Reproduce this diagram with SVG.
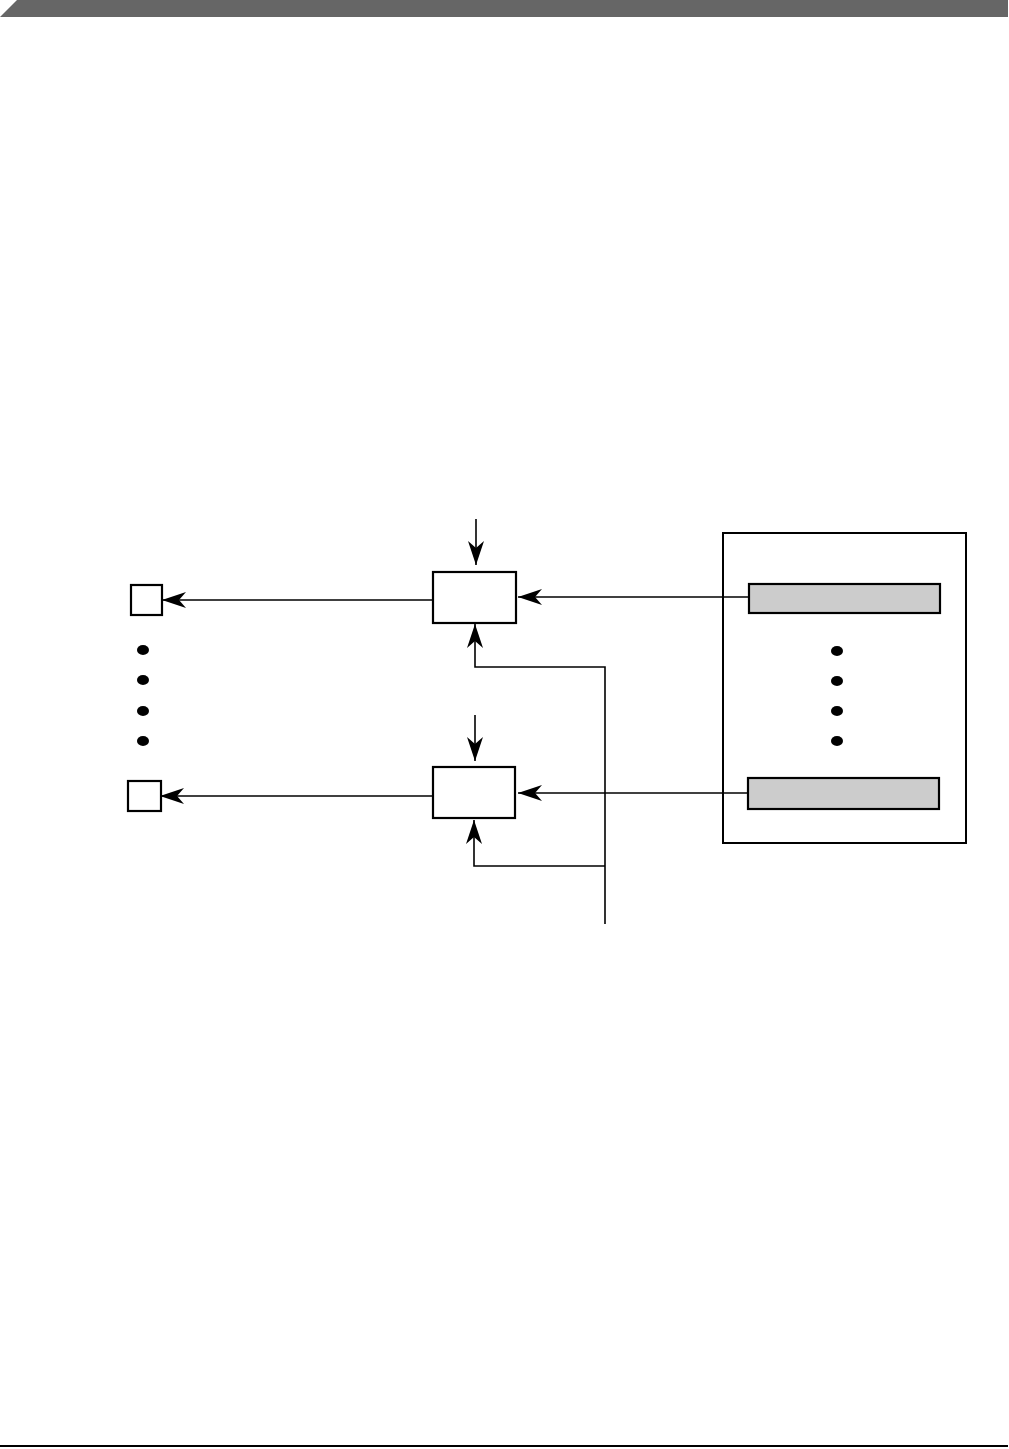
<svg xmlns="http://www.w3.org/2000/svg" width="1009" height="1449" viewBox="0 0 1009 1449">
<style>
.box{fill:#fff;stroke:#000;stroke-width:2.2}
.bar{fill:#cccccc;stroke:#000;stroke-width:2.2}
.frame{fill:none;stroke:#000;stroke-width:2}
.wire{fill:none;stroke:#000;stroke-width:1.6}
.dot{fill:#000}
</style>
<defs>
<marker id="ah" markerUnits="userSpaceOnUse" markerWidth="30" markerHeight="20" viewBox="-26 -10 30 20" refX="0" refY="0" orient="auto">
<path d="M0,0 L-24,-8 L-17,0 L-24,8 Z" fill="#000"/>
</marker>
</defs>
<rect width="1009" height="1449" fill="#fff"/>
<polygon points="17,0 1008,0 1008,17 0,17" fill="#666666"/>
<line x1="0" y1="1446" x2="1008" y2="1446" stroke="#000" stroke-width="2"/>

<g id="out1"><rect class="box" x="131" y="585" width="31" height="30"/></g>
<g id="out2"><rect class="box" x="128" y="781" width="33" height="30"/></g>
<g id="mux1"><rect class="box" x="433" y="572" width="83" height="51"/></g>
<g id="mux2"><rect class="box" x="433" y="767" width="82" height="51"/></g>
<g id="regblock">
<rect class="frame" x="723" y="533" width="243" height="310"/>
<rect class="bar" x="749" y="584" width="191" height="29"/>
<rect class="bar" x="748" y="778" width="191" height="31"/>
<ellipse class="dot" cx="837" cy="651" rx="6" ry="5"/>
<ellipse class="dot" cx="837" cy="681" rx="6" ry="5"/>
<ellipse class="dot" cx="837" cy="711" rx="6" ry="5"/>
<ellipse class="dot" cx="837" cy="741" rx="6" ry="5"/>
</g>
<g id="leftdots">
<ellipse class="dot" cx="143" cy="650" rx="6" ry="5"/>
<ellipse class="dot" cx="143" cy="680" rx="6" ry="5"/>
<ellipse class="dot" cx="143" cy="711" rx="6" ry="5"/>
<ellipse class="dot" cx="143" cy="741" rx="6" ry="5"/>
</g>

<g id="connectors">
<line class="wire" x1="432" y1="600" x2="162" y2="600" marker-end="url(#ah)"/>
<line class="wire" x1="432" y1="796" x2="160" y2="796" marker-end="url(#ah)"/>
<line class="wire" x1="476" y1="519" x2="476" y2="565" marker-end="url(#ah)"/>
<line class="wire" x1="475" y1="715" x2="475" y2="761" marker-end="url(#ah)"/>
<line class="wire" x1="749" y1="597" x2="518" y2="597" marker-end="url(#ah)"/>
<line class="wire" x1="748" y1="793" x2="518" y2="793" marker-end="url(#ah)"/>
<polyline class="wire" points="605,924 605,667 475,667 475,624" marker-end="url(#ah)"/>
<polyline class="wire" points="605,866 474,866 474,820" marker-end="url(#ah)"/>
</g>
</svg>
